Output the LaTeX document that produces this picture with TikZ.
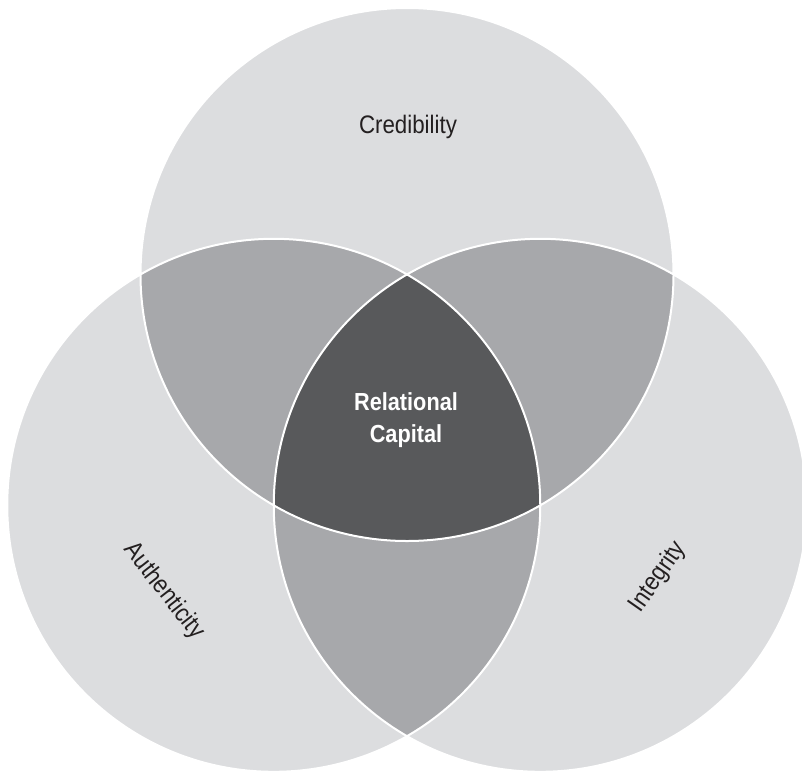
\documentclass[tikz,border=0pt]{standalone}
\usepackage{fontspec}
\setmainfont{Liberation Sans}[FakeStretch=0.88]
\definecolor{lightfill}{HTML}{DCDDDF}
\definecolor{midfill}{HTML}{A7A8AB}
\definecolor{darkfill}{HTML}{58595B}
\definecolor{inktext}{HTML}{231F20}
\tikzset{
  setlabel/.style={text=inktext, font=\fontsize{19}{23}\selectfont, inner sep=0pt},
  corelabel/.style={text=white, font=\bfseries\fontsize{18.5}{24}\selectfont, align=center, inner sep=0pt},
  seam/.style={draw=white, line width=1.5pt}
}
\begin{document}
\begin{tikzpicture}[x=0.75pt,y=-0.75pt]
  \useasboundingbox (0,0) rectangle (802,771);
  \clip (0,0) rectangle (802,771);
  % centres sit on an equilateral triangle whose side equals the radius
  \def\rr{199.875pt}
  \coordinate (T) at (407,274.5);
  \coordinate (L) at (273.75,505.3);
  \coordinate (R) at (540.25,505.3);
  % single sets
  \fill[lightfill] (T) circle[radius=\rr] (L) circle[radius=\rr] (R) circle[radius=\rr];
  % pairwise overlaps
  \begin{scope}
    \clip (T) circle[radius=\rr];
    \fill[midfill] (L) circle[radius=\rr];
    \fill[midfill] (R) circle[radius=\rr];
  \end{scope}
  \begin{scope}
    \clip (L) circle[radius=\rr];
    \fill[midfill] (R) circle[radius=\rr];
  \end{scope}
  % common core
  \begin{scope}
    \clip (T) circle[radius=\rr];
    \clip (L) circle[radius=\rr];
    \fill[darkfill] (R) circle[radius=\rr];
  \end{scope}
  % white seams between regions
  \path[seam] (T) circle[radius=\rr] (L) circle[radius=\rr] (R) circle[radius=\rr];
  % labels
  \node[setlabel] (cred) at (408,127) {Credibility};
  \node[setlabel, rotate=-52] (auth) at (164,591) {Authenticity};
  \node[setlabel, rotate=55] (integ) at (658,577) {Integrity};
  \node[corelabel] (core) at (406,420) {Relational\\Capital};
\end{tikzpicture}
\end{document}
